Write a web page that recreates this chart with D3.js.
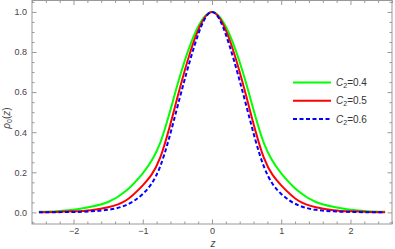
<!DOCTYPE html>
<html>
<head>
<meta charset="utf-8">
<script src="https://cdn.jsdelivr.net/npm/d3@7"></script>
<style>
  html, body { margin: 0; padding: 0; background: #fff; }
  svg { display: block; font-family: 'Liberation Sans', Arial, sans-serif; }
</style>
</head>
<body>
<svg id="chart" width="395" height="249"></svg>
<script>
// sample positions along z, and the density for each C2
const zValues = [-2.5, -2.25, -2, -1.75, -1.5, -1.25, -1, -0.75, -0.5, -0.25, 0,
  0.25, 0.5, 0.75, 1, 1.25, 1.5, 1.75, 2, 2.25, 2.5]
const rhoC04 = [0.003, 0.006, 0.013, 0.028, 0.052, 0.105, 0.195, 0.345, 0.635, 0.89, 1,
  0.89, 0.635, 0.345, 0.195, 0.105, 0.052, 0.028, 0.013, 0.006, 0.003]
const rhoC05 = [0.001, 0.002, 0.005, 0.011, 0.026, 0.058, 0.135, 0.272, 0.573, 0.865, 1,
  0.865, 0.573, 0.272, 0.135, 0.058, 0.026, 0.011, 0.005, 0.002, 0.001]
const rhoC06 = [0.0004, 0.001, 0.002, 0.005, 0.013, 0.035, 0.092, 0.228, 0.526, 0.835, 1,
  0.835, 0.526, 0.228, 0.092, 0.035, 0.013, 0.005, 0.002, 0.001, 0.0004]
const seriesNames = ['0.4', '0.5', '0.6']

const xTicks = [-2, -1, 0, 1, 2]
const yTicks = [0, 0.2, 0.4, 0.6, 0.8, 1.0]

const series = [
  {name: seriesNames[0], values: rhoC04, color: '#00ff00', dash: null},
  {name: seriesNames[1], values: rhoC05, color: '#ff0000', dash: null},
  {name: seriesNames[2], values: rhoC06, color: '#0000ff', dash: '4,2.5'},
]

const frame = {left: 32, right: 392, top: 0.5, bottom: 224}

const x = d3.scaleLinear().domain([-2.6, 2.6]).range([frame.left, frame.right])
const y = d3.scaleLinear().domain([-0.058, 1.057]).range([frame.bottom, frame.top])

const svg = d3.select('#chart')

// minor tick positions
const xMinor = d3.range(-2.6, 2.61, 0.2).map(v => +v.toFixed(1)).filter(v => !xTicks.includes(v))
const yMinor = d3.range(-0.05, 1.06, 0.05).map(v => +v.toFixed(2))
  .filter(v => !yTicks.some(t => Math.abs(t - v) < 1e-6))

const tickColor = '#999'
const labelColor = '#444'

const styleAxis = g => {
  g.select('.domain').remove()
  g.selectAll('.tick line').attr('stroke', tickColor)
  g.selectAll('.tick text').attr('fill', labelColor).attr('font-size', 9)
}

// bottom
svg.append('g')
  .attr('transform', `translate(0,${frame.bottom})`)
  .call(d3.axisBottom(x).tickValues(xTicks).tickSize(-4.5).tickPadding(4).tickFormat(d3.format('d')))
  .call(styleAxis)
svg.append('g')
  .attr('transform', `translate(0,${frame.bottom})`)
  .call(d3.axisBottom(x).tickValues(xMinor).tickSize(-2.5).tickFormat(''))
  .call(styleAxis)
// top
svg.append('g')
  .attr('transform', `translate(0,${frame.top})`)
  .call(d3.axisTop(x).tickValues(xTicks).tickSize(-4.5).tickFormat(''))
  .call(styleAxis)
svg.append('g')
  .attr('transform', `translate(0,${frame.top})`)
  .call(d3.axisTop(x).tickValues(xMinor).tickSize(-2.5).tickFormat(''))
  .call(styleAxis)
// left
svg.append('g')
  .attr('transform', `translate(${frame.left},0)`)
  .call(d3.axisLeft(y).tickValues(yTicks).tickSize(-4.5).tickPadding(5).tickFormat(d3.format('.1f')))
  .call(styleAxis)
svg.append('g')
  .attr('transform', `translate(${frame.left},0)`)
  .call(d3.axisLeft(y).tickValues(yMinor).tickSize(-2.5).tickFormat(''))
  .call(styleAxis)
// right
svg.append('g')
  .attr('transform', `translate(${frame.right},0)`)
  .call(d3.axisRight(y).tickValues(yTicks).tickSize(-4.5).tickFormat(''))
  .call(styleAxis)
svg.append('g')
  .attr('transform', `translate(${frame.right},0)`)
  .call(d3.axisRight(y).tickValues(yMinor).tickSize(-2.5).tickFormat(''))
  .call(styleAxis)

svg.append('rect')
  .attr('x', frame.left)
  .attr('y', frame.top)
  .attr('width', frame.right - frame.left)
  .attr('height', frame.bottom - frame.top)
  .attr('fill', 'none')
  .attr('stroke', tickColor)
  .attr('stroke-width', 1)

// natural spline keeps the read points smooth
const line = d3.line()
  .x((d, i) => x(zValues[i]))
  .y(d => y(d))
  .curve(d3.curveNatural)

svg.append('g')
  .selectAll('path')
  .data(series)
  .join('path')
  .attr('d', d => line(d.values))
  .attr('fill', 'none')
  .attr('stroke', d => d.color)
  .attr('stroke-width', 2)
  .attr('stroke-dasharray', d => d.dash)

// axis labels
svg.append('text')
  .attr('x', 213)
  .attr('y', 247)
  .attr('text-anchor', 'middle')
  .attr('font-size', 10)
  .attr('font-style', 'italic')
  .attr('fill', labelColor)
  .text('z')

const yLabel = svg.append('text')
  .attr('transform', 'translate(10,118) rotate(-90)')
  .attr('text-anchor', 'middle')
  .attr('font-size', 10)
  .attr('fill', labelColor)
yLabel.append('tspan').attr('font-style', 'italic').text('ρ')
yLabel.append('tspan').attr('font-size', 7).attr('dy', 2).text('0')
yLabel.append('tspan').attr('dy', -2).text('(')
yLabel.append('tspan').attr('font-style', 'italic').text('z')
yLabel.append('tspan').text(')')

// legend
const legend = svg.append('g')
  .selectAll('g')
  .data(series)
  .join('g')
  .attr('transform', (d, i) => `translate(293,${82.5 + i * 18.3})`)

legend.append('line')
  .attr('x1', 0)
  .attr('x2', 38)
  .attr('stroke', d => d.color)
  .attr('stroke-width', 2)
  .attr('stroke-dasharray', d => d.dash)

const legendText = legend.append('text')
  .attr('x', 43)
  .attr('y', 3.5)
  .attr('font-size', 10)
  .attr('fill', '#333')
legendText.append('tspan').attr('font-style', 'italic').text('C')
legendText.append('tspan').attr('font-size', 7).attr('dy', 2).text('2')
legendText.append('tspan').attr('dy', -2).text(d => '=' + d.name)
</script>
</body>
</html>
